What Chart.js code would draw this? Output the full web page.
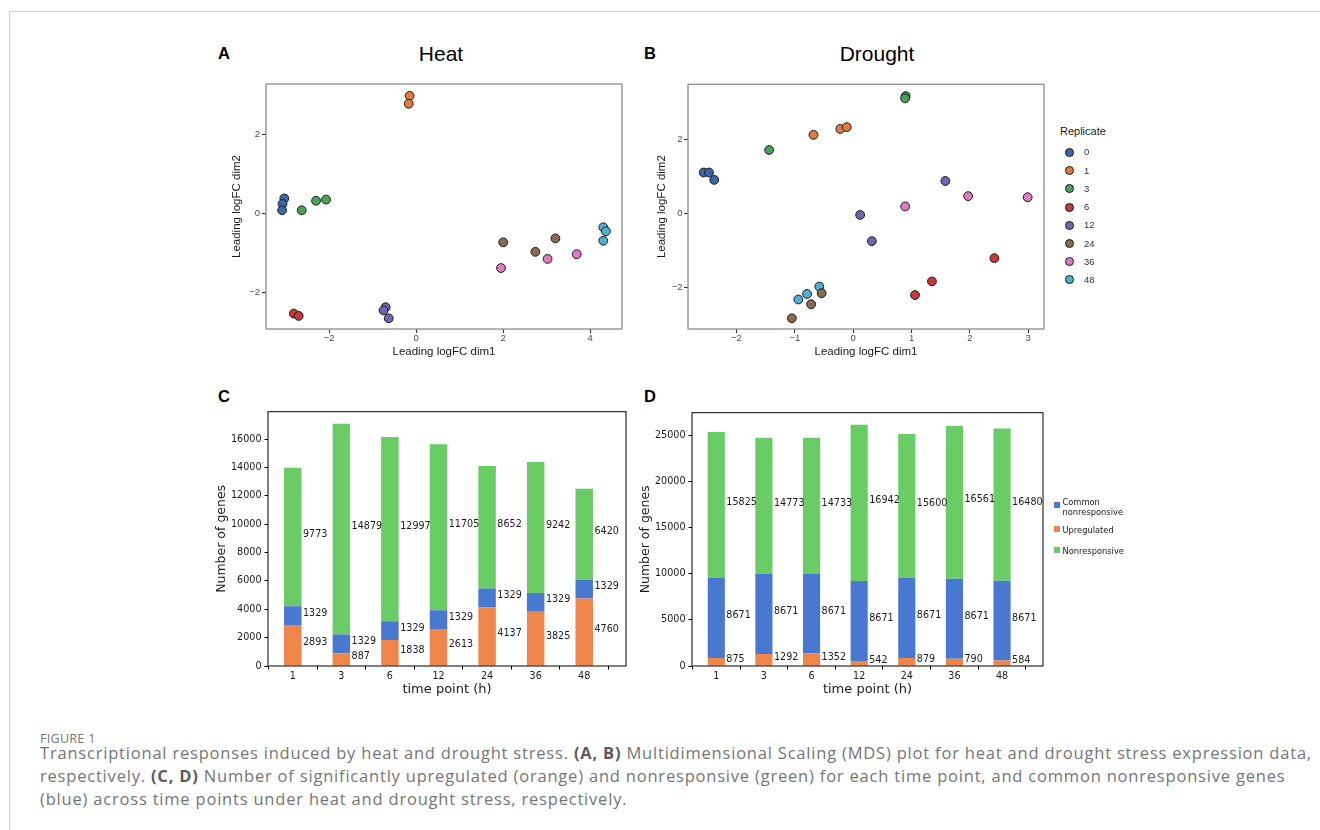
<!DOCTYPE html>
<html>
<head>
<meta charset="utf-8">
<script src="https://cdn.jsdelivr.net/npm/chart.js@4"></script>
<style>
html,body{margin:0;padding:0;background:#fff;}
body{width:1320px;height:830px;position:relative;overflow:hidden;font-family:"Liberation Sans",Arial,sans-serif;}
.fr-top{position:absolute;left:9px;top:11px;width:1311px;height:1px;background:#cfcfcf;}
.fr-left{position:absolute;left:9px;top:11px;width:1px;height:819px;background:#cfcfcf;}
canvas{position:absolute;}
.panel{position:absolute;font-family:"Liberation Sans",Arial,sans-serif;font-weight:bold;font-size:16.5px;color:#000;line-height:1;}
.ttl{position:absolute;font-family:"Liberation Sans",Arial,sans-serif;font-size:21px;color:#000;line-height:1;transform:translate(-50%,-50%);white-space:nowrap;}
.leg{position:absolute;white-space:nowrap;line-height:1;}
.cap{position:absolute;left:40px;font-family:"Open Sans",sans-serif;color:#757575;white-space:nowrap;line-height:1;}
.cap b{color:#5a5a5a;}
</style>
</head>
<body>
<div class="fr-top"></div><div class="fr-left"></div>

<div class="panel" style="left:218px;top:45px;">A</div>
<div class="panel" style="left:644px;top:45px;">B</div>
<div class="panel" style="left:218px;top:388px;">C</div>
<div class="panel" style="left:644px;top:388px;">D</div>
<div class="ttl" style="left:441px;top:53px;">Heat</div>
<div class="ttl" style="left:877px;top:53px;">Drought</div>

<canvas id="cA" width="432" height="299" style="left:200px;top:70px;"></canvas>
<canvas id="cB" width="432" height="299" style="left:622px;top:70px;"></canvas>
<canvas id="cC" width="434" height="300" style="left:198px;top:400px;"></canvas>
<canvas id="cD" width="427" height="300" style="left:622px;top:400px;"></canvas>

<div id="legB"></div>
<div id="legD"></div>

<div class="cap" style="top:733px;font-size:12.5px;letter-spacing:0.3px;">FIGURE 1</div>
<div class="cap capl" id="cap1" style="top:745px;font-size:16.5px;">Transcriptional responses induced by heat and drought stress. <b>(A, B)</b> Multidimensional Scaling (MDS) plot for heat and drought stress expression data,</div>
<div class="cap capl" id="cap2" style="top:768px;font-size:16.5px;">respectively. <b>(C, D)</b> Number of significantly upregulated (orange) and nonresponsive (green) for each time point, and common nonresponsive genes</div>
<div class="cap capl" id="cap3" style="top:791px;font-size:16.5px;">(blue) across time points under heat and drought stress, respectively.</div>

<script>
// ---------------- DATA ----------------
const replicateLabels = ['0','1','3','6','12','24','36','48'];

// Panel A (Heat) MDS coordinates
const heatDim1 = [-3.03,-3.07,-3.08, -0.15,-0.17, -2.63,-2.30,-2.07, -2.81,-2.70, -0.70,-0.75,-0.63, 2.00,2.74,3.20, 1.95,3.02,3.69, 4.30,4.36,4.30];
const heatDim2 = [0.38,0.24,0.08, 2.97,2.77, 0.08,0.32,0.35, -2.53,-2.59, -2.37,-2.45,-2.65, -0.73,-0.97,-0.63, -1.38,-1.15,-1.03, -0.35,-0.45,-0.69];
const heatRep  = ['0','0','0','1','1','3','3','3','6','6','12','12','12','24','24','24','36','36','36','48','48','48'];
const heatXTicks = [-2,0,2,4];
const heatYTicks = [-2,0,2];

// Panel B (Drought) MDS coordinates
const droughtDim1 = [-2.56,-2.47,-2.38, -0.68,-0.22,-0.11, -1.44,0.90,0.89, 2.42,1.35,1.06, 1.58,0.12,0.32, -0.54,-0.72,-1.05, 0.89,1.97,2.99, -0.58,-0.79,-0.94];
const droughtDim2 = [1.11,1.11,0.91, 2.13,2.29,2.34, 1.72,3.18,3.12, -1.21,-1.84,-2.21, 0.88,-0.04,-0.75, -2.16,-2.46,-2.84, 0.19,0.47,0.44, -1.98,-2.18,-2.33];
const droughtRep  = ['0','0','0','1','1','1','3','3','3','6','6','6','12','12','12','24','24','24','36','36','36','48','48','48'];
const droughtXTicks = [-2,-1,0,1,2,3];
const droughtYTicks = [-2,0,2];

// Panels C, D
const timePoints = ['1','3','6','12','24','36','48'];
const heatUp      = [2893, 887, 1838, 2613, 4137, 3825, 4760];
const heatCommon  = [1329, 1329, 1329, 1329, 1329, 1329, 1329];
const heatNonresp = [9773, 14879, 12997, 11705, 8652, 9242, 6420];
const heatBarTicks = [0,2000,4000,6000,8000,10000,12000,14000,16000];

const droughtUp      = [875, 1292, 1352, 542, 879, 790, 584];
const droughtCommon  = [8671, 8671, 8671, 8671, 8671, 8671, 8671];
const droughtNonresp = [15825, 14773, 14733, 16942, 15600, 16561, 16480];
const droughtBarTicks = [0,5000,10000,15000,20000,25000];

const seriesNames = {up:'Upregulated', common:'Common nonresponsive', non:'Nonresponsive'};

// ---------------- STYLE ----------------
const repColors = ['#3b66ab','#e27b3c','#4aa35b','#c8383b','#7364ae','#8a6b52','#de7bc1','#4db1d2'];
const barColors = {up:'#ee854a', common:'#4878d0', non:'#6acc64'};
const GG = '"Liberation Sans", Arial, sans-serif';
const MPL = '"DejaVu Sans", sans-serif';
Chart.defaults.animation = false;
Chart.defaults.devicePixelRatio = 1;

const minus = v => (v < 0 ? '\u2212' + Math.abs(v) : String(v));

const boxPlugin = {
  id: 'box',
  afterDraw(chart, args, opts) {
    const a = chart.chartArea, c = chart.ctx;
    c.save();
    c.strokeStyle = opts.color || '#000';
    c.lineWidth = opts.width || 1;
    c.strokeRect(a.left, a.top, a.right - a.left, a.bottom - a.top);
    c.restore();
  }
};

const barLabelPlugin = {
  id: 'barLabels',
  afterDatasetsDraw(chart, args, opts) {
    if (!opts.enabled) return;
    const c = chart.ctx;
    c.save();
    c.font = opts.font;
    c.fillStyle = opts.color;
    c.textAlign = 'left';
    c.textBaseline = 'alphabetic';
    chart.data.datasets.forEach((ds, di) => {
      const meta = chart.getDatasetMeta(di);
      meta.data.forEach((el, i) => {
        const p = el.getProps(['x','y','base','width'], true);
        const x = p.x + p.width / 2 + 1.5;
        const y = (p.y + p.base) / 2;
        c.fillText(String(ds.data[i].y), x, y);
      });
    });
    c.restore();
  }
};

function mdsDatasets(d1, d2, rep) {
  return replicateLabels.map((r, k) => ({
    label: r,
    data: d1.map((x, i) => ({x, y: d2[i], r: rep[i]})).filter(p => p.r === r).map(p => ({x: p.x, y: p.y})),
    backgroundColor: repColors[k],
    borderColor: '#1a1a1a',
    borderWidth: 1,
    pointRadius: 4.4,
    pointHoverRadius: 4.4
  }));
}

function mdsOptions(xr, yr, xt, yt, ytitlePad, yTickPad, padTop) {
  const tickFont = {family: GG, size: 9.5};
  const titleFont = {family: GG, size: 11.5};
  return {
    responsive: false,
    layout: {padding: {left: 0, right: 10, top: padTop, bottom: 0}},
    plugins: {legend: {display: false}, tooltip: {enabled: false}, box: {color: '#8c8c8c', width: 1.3}, barLabels: {enabled: false}},
    scales: {
      x: {
        type: 'linear', min: xr[0], max: xr[1],
        afterBuildTicks: s => { s.ticks = xt.map(v => ({value: v})); },
        afterFit: s => { s.height = 40; },
        grid: {drawOnChartArea: false, drawTicks: true, tickLength: 4, tickColor: '#333', tickWidth: 1.1},
        border: {display: false},
        ticks: {font: tickFont, color: '#4d4d4d', padding: 0, maxRotation: 0, autoSkip: false, callback: v => minus(v)},
        title: {display: true, text: 'Leading logFC dim1', font: titleFont, color: '#1a1a1a', padding: {top: 0, bottom: 10}}
      },
      y: {
        type: 'linear', min: yr[0], max: yr[1],
        afterBuildTicks: s => { s.ticks = yt.map(v => ({value: v})); },
        afterFit: s => { s.width = 66; },
        grid: {drawOnChartArea: false, drawTicks: true, tickLength: 4, tickColor: '#333', tickWidth: 1.1},
        border: {display: false},
        ticks: {font: tickFont, color: '#4d4d4d', padding: yTickPad, autoSkip: false, callback: v => minus(v)},
        title: {display: true, text: 'Leading logFC dim2', font: titleFont, color: '#1a1a1a', padding: {top: ytitlePad, bottom: 0}}
      }
    }
  };
}

new Chart(document.getElementById('cA'), {
  type: 'scatter',
  data: {datasets: mdsDatasets(heatDim1, heatDim2, heatRep)},
  options: mdsOptions([-3.45, 4.73], [-2.92, 3.27], heatXTicks, heatYTicks, 30, 2, 14),
  plugins: [boxPlugin, barLabelPlugin]
});
new Chart(document.getElementById('cB'), {
  type: 'scatter',
  data: {datasets: mdsDatasets(droughtDim1, droughtDim2, droughtRep)},
  options: mdsOptions([-2.83, 3.27], [-3.13, 3.50], droughtXTicks, droughtYTicks, 33, 1.5, 14.3),
  plugins: [boxPlugin, barLabelPlugin]
});

function barDatasets(up, common, non) {
  const mk = (arr, key) => ({
    label: seriesNames[key],
    data: arr.map((v, i) => ({x: i, y: v})),
    backgroundColor: barColors[key],
    borderWidth: 0,
    barPercentage: 0.36,
    categoryPercentage: 1
  });
  return [mk(up, 'up'), mk(common, 'common'), mk(non, 'non')];
}

function barOptions(ymax, yt, padTop) {
  const tickFont = {family: MPL, size: 9.6};
  return {
    responsive: false,
    layout: {padding: {left: 0, right: 6, top: padTop, bottom: 0}},
    plugins: {legend: {display: false}, tooltip: {enabled: false}, box: {color: '#000', width: 1},
      barLabels: {enabled: true, font: '9.6px "DejaVu Sans", sans-serif', color: '#1a1a1a'}},
    scales: {
      x: {
        type: 'linear', min: -0.51, max: 6.86, stacked: true, offset: false,
        afterBuildTicks: s => { s.ticks = timePoints.map((t, i) => ({value: i})); },
        afterFit: s => { s.height = 34; },
        grid: {drawOnChartArea: false, drawTicks: true, tickLength: 3.5, tickColor: '#000', tickWidth: 1},
        border: {display: false},
        ticks: {font: tickFont, color: '#1a1a1a', padding: 1.2, maxRotation: 0, autoSkip: false, callback: v => timePoints[v]},
        title: {display: true, text: 'time point (h)', font: {family: MPL, size: 13}, color: '#1a1a1a', padding: {top: 0, bottom: 3}}
      },
      y: {
        type: 'linear', min: 0, max: ymax, stacked: true,
        afterBuildTicks: s => { s.ticks = yt.map(v => ({value: v})); },
        afterFit: s => { s.width = 70; },
        grid: {drawOnChartArea: false, drawTicks: true, tickLength: 3.5, tickColor: '#000', tickWidth: 1},
        border: {display: false},
        ticks: {font: tickFont, color: '#1a1a1a', padding: 3, autoSkip: false, callback: v => String(v)},
        title: {display: true, text: 'Number of genes', font: {family: MPL, size: 12.5}, color: '#1a1a1a', padding: {top: 16.5, bottom: 0}}
      }
    }
  };
}

new Chart(document.getElementById('cC'), {
  type: 'bar',
  data: {datasets: barDatasets(heatUp, heatCommon, heatNonresp)},
  options: barOptions(17950, heatBarTicks, 11.7),
  plugins: [boxPlugin, barLabelPlugin]
});
new Chart(document.getElementById('cD'), {
  type: 'bar',
  data: {datasets: barDatasets(droughtUp, droughtCommon, droughtNonresp)},
  options: barOptions(27460, droughtBarTicks, 12.7),
  plugins: [boxPlugin, barLabelPlugin]
});

// ---------------- HTML legends ----------------
(function () {
  const lb = document.getElementById('legB');
  let h = '<div class="leg" style="left:1060px;top:126px;font-family:' + GG.replace(/"/g, "'") + ';font-size:11px;color:#1a1a1a;">Replicate</div>';
  replicateLabels.forEach((r, k) => {
    const cy = 152.3 + k * 18.24;
    h += '<div class="leg" style="left:' + (1069 - 4.5) + 'px;top:' + (cy - 4.5) + 'px;width:7px;height:7px;border:1px solid #1a1a1a;border-radius:50%;background:' + repColors[k] + ';"></div>';
    h += '<div class="leg" style="left:1084px;top:' + (cy - 5) + 'px;font-family:' + GG.replace(/"/g, "'") + ';font-size:9.5px;color:#333;">' + r + '</div>';
  });
  lb.innerHTML = h;

  const ld = document.getElementById('legD');
  const order = [['common', 505], ['up', 529], ['non', 550]];
  let g = '';
  order.forEach(([key, cy]) => {
    g += '<div class="leg" style="left:1054px;top:' + (cy - 3) + 'px;width:6px;height:6px;background:' + barColors[key] + ';"></div>';
    const name = key === 'common' ? 'Common<br>nonresponsive' : seriesNames[key];
    const top = key === 'common' ? cy - 8.5 : cy - 4.5;
    g += '<div class="leg" style="left:1062.5px;top:' + top + 'px;font-family:\'DejaVu Sans\',sans-serif;font-size:8.3px;line-height:10.3px;color:#1a1a1a;">' + name + '</div>';
  });
  ld.innerHTML = g;
})();

// ---------------- caption width fit (styling only) ----------------
(function () {
  const l1 = document.getElementById('cap1');
  const target = 1272;
  const w = l1.getBoundingClientRect().width;
  const n = l1.textContent.length;
  const ls = (target - w) / n;
  document.querySelectorAll('.capl').forEach(el => { el.style.letterSpacing = ls.toFixed(3) + 'px'; });
})();
</script>
</body>
</html>
